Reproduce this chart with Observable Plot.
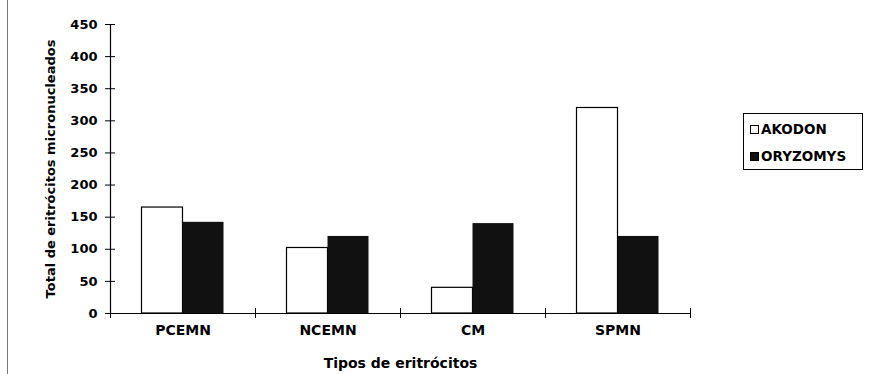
<!DOCTYPE html>
<html><head><meta charset="utf-8">
<script src="https://cdn.jsdelivr.net/npm/d3@7"></script>
<script src="https://cdn.jsdelivr.net/npm/@observablehq/plot@0.6"></script>
<style>
body{margin:0;background:#fff;}
#wrap{position:relative;width:889px;height:374px;overflow:hidden;font-family:"DejaVu Sans",sans-serif;background:#fff;}
#wrap svg{position:absolute;left:0;top:0;}
#edge{position:absolute;left:7px;top:0;width:1px;height:374px;background:#777;}
#legend{position:absolute;left:743px;top:113px;width:120px;height:57px;border:1px solid #000;box-sizing:border-box;background:#fff;}
.item{position:absolute;left:6px;height:14px;display:flex;align-items:center;font-weight:bold;font-size:13.5px;color:#000;white-space:nowrap;}
.sw{width:9px;height:9px;border:1px solid #000;margin-right:2px;box-sizing:border-box;}
</style></head>
<body>
<div id="wrap"><div id="edge"></div></div>
<script>
const categories = ["PCEMN", "NCEMN", "CM", "SPMN"];
const akodon = [165, 102, 40, 320];
const oryzomys = [142, 120, 140, 120];
const seriesNames = ["AKODON", "ORYZOMYS"];
const seriesFills = ["#ffffff", "#111111"];
const yTicks = [0, 50, 100, 150, 200, 250, 300, 350, 400, 450];
const xTitle = "Tipos de eritrócitos";
const yTitle = "Total de eritrócitos micronucleados";

const rowsA = categories.map((c, i) => ({cat: c, value: akodon[i]}));
const rowsO = categories.map((c, i) => ({cat: c, value: oryzomys[i]}));
const yMax = yTicks[yTicks.length - 1];

const chart = Plot.plot({
  width: 889, height: 374,
  marginLeft: 110, marginRight: 199, marginTop: 24, marginBottom: 61,
  style: {fontFamily: "DejaVu Sans", fontWeight: "bold", fontSize: "13px", background: "transparent", color: "#000"},
  x: {domain: categories, padding: 0},
  y: {domain: [0, yMax]},
  marks: [
    Plot.barY(rowsA, {x: "cat", y: "value", fill: seriesFills[0], stroke: "#000", strokeWidth: 1.2, insetLeft: 31.5, insetRight: 72.5}),
    Plot.barY(rowsO, {x: "cat", y: "value", fill: seriesFills[1], insetLeft: 72.5, insetRight: 31.5}),
    Plot.ruleY([0], {stroke: "#000", strokeWidth: 1.2}),
    Plot.ruleX([categories[0]], {y1: 0, y2: yMax, dx: -72.5, stroke: "#000", strokeWidth: 1.2}),
    Plot.ruleX(categories, {y1: 0, y2: 0, insetTop: -5, insetBottom: -5, dx: -72.5, stroke: "#000"}),
    Plot.ruleX([categories[categories.length - 1]], {y1: 0, y2: 0, insetTop: -5, insetBottom: -5, dx: 72.5, stroke: "#000"}),
    Plot.axisY({ticks: yTicks, tickSize: 5, tickPadding: 8, tickFormat: d => String(d), fontSize: 13,
      label: yTitle, labelAnchor: "center", labelOffset: 65, labelArrow: "none"}),
    Plot.axisY({ticks: yTicks, tickSize: 5, tickFormat: null, text: null, label: null, dx: 5}),
    Plot.axisX({tickSize: 0, tickPadding: 12, fontSize: 14,
      label: xTitle, labelAnchor: "center", labelOffset: 54, labelArrow: "none"})
  ]
});
const wrap = document.getElementById("wrap");
wrap.appendChild(chart);

const legend = document.createElement("div");
legend.id = "legend";
seriesNames.forEach((name, i) => {
  const item = document.createElement("div");
  item.className = "item";
  item.style.top = (8 + i * 27) + "px";
  const sw = document.createElement("div");
  sw.className = "sw";
  sw.style.background = seriesFills[i];
  item.appendChild(sw);
  const t = document.createElement("span");
  t.textContent = name;
  item.appendChild(t);
  legend.appendChild(item);
});
wrap.appendChild(legend);
</script>
</body></html>
